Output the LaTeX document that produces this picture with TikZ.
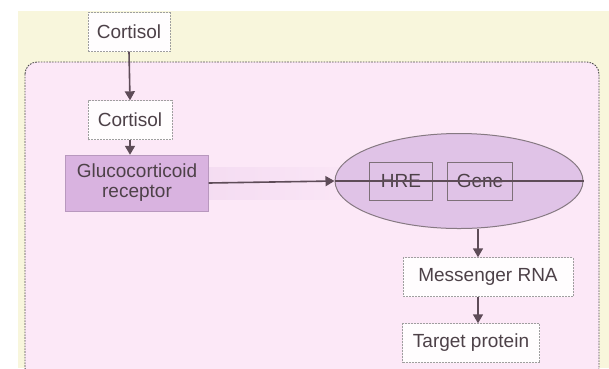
\documentclass[tikz,border=0pt]{standalone}
\usepackage{fontspec}
\setmainfont{Liberation Sans}
\usetikzlibrary{arrows.meta,shapes.geometric}
\definecolor{cytoY}{HTML}{F8F6DC}
\definecolor{cellP}{HTML}{FCE8F7}
\definecolor{recP}{HTML}{D9B3E0}
\definecolor{nucP}{HTML}{E0C3E7}
\definecolor{inkG}{HTML}{4D4148}
\definecolor{lineG}{HTML}{5E4C58}
\tikzset{
  tbox/.style={draw=gray!75,dash pattern=on 2pt off 1pt,fill=white!92!cellP,minimum height=39pt,
    inner sep=6pt,text=inkG,font=\fontsize{19}{22}\selectfont},
  gbox/.style={draw=lineG!80,line width=1pt,minimum width=63pt,minimum height=38pt,
    text=inkG,font=\fontsize{19}{22}\selectfont},
  rbox/.style={draw=recP!85!black,fill=recP,minimum width=143pt,minimum height=56pt,
    align=center,text=inkG,font=\fontsize{19}{22}\selectfont},
  garr/.style={line width=1.6pt,lineG,-{Triangle[length=9pt,width=10pt]}},
  gline/.style={line width=1.6pt,lineG},
  memb/.style={draw=gray!60!black,line width=0.9pt,dash pattern=on 1.6pt off 1.2pt},
}
\begin{document}
\begin{tikzpicture}[x=1pt,y=-1pt]
\useasboundingbox (0,0) rectangle (609,368);
\clip (0,0) rectangle (609,368);
%% cytoplasm (yellow) and the cell interior (pink, dashed membrane)
\fill[cytoY] (18,11) rectangle (609,368);
\draw[memb,fill=cellP,rounded corners=12pt] (25,62) rectangle (599,380);
% faint band along the receptor path
\shade[left color=recP!22!cellP,right color=cellP] (208,167) rectangle (380,199);
% ---- hormone and receptor
\node[tbox,minimum width=82pt] (cortOut) at (129,32) {Cortisol};
\node[tbox,minimum width=84pt] (cortIn) at (130,120) {Cortisol};
\node[rbox] (gr) at (137,183) {Glucocorticoid\\[-2pt]receptor};
% ---- nucleus with response element and gene
\node[ellipse,draw=lineG!75,line width=1pt,fill=nucP,minimum width=248pt,minimum height=95pt] (nuc) at (459,181) {};
\node[gbox] (hre) at (401,181) {HRE};
\node[gbox,minimum width=65pt] (gene) at (480,181) {Gene};
\draw[gline] (nuc.west) -- (nuc.east);
% ---- products
\node[tbox,minimum width=170pt] (mrna) at (488,277) {Messenger RNA};
\node[tbox,minimum width=137pt] (prot) at (471,343) {Target protein};
\coordinate (tx) at (478,0);
% ---- connectors
\draw[garr] (cortOut.south) -- (cortIn.north);
\draw[garr] (cortIn.south) -- (gr.north -| cortIn.south);
\draw[garr] (gr.east) -- (nuc.west);
\draw[garr] (nuc.south -| tx) -- (mrna.north -| tx);
\draw[garr] (mrna.south -| tx) -- (prot.north -| tx);
\end{tikzpicture}
\end{document}
